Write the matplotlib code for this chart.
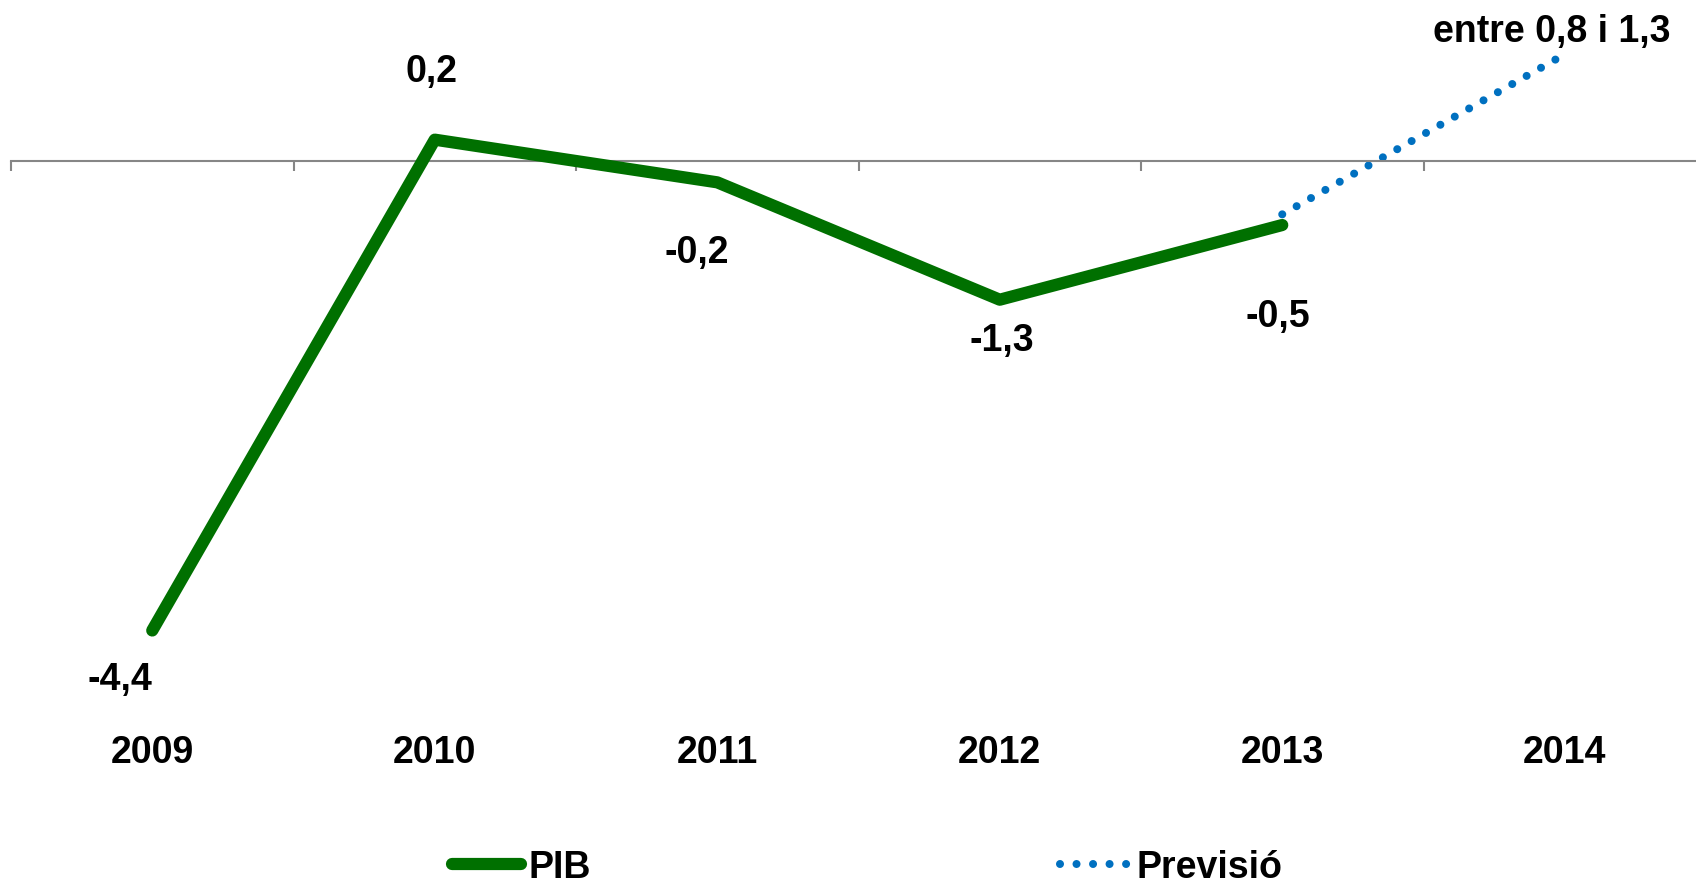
import matplotlib
matplotlib.use("Agg")
import matplotlib.pyplot as plt
import matplotlib.transforms as mtransforms

plt.rcParams['font.family'] = ['Liberation Sans', 'DejaVu Sans']
plt.rcParams['font.weight'] = 'bold'

# data
years = ['2009', '2010', '2011', '2012', '2013', '2014']
pib = [-4.4, 0.2, -0.2, -1.3, -0.6]
pib_labels = ['-4,4', '0,2', '-0,2', '-1,3', '-0,5']
previsio = [-0.5, 1.0]
previsio_label = 'entre 0,8 i 1,3'

# label offsets in points from each point (dx, dy)
pib_offsets = [(-23, -42), (-2, 42.5), (-14.6, -57.5), (1.6, -36.5), (-3.1, -72.5)]
prev_offset = (-9.4, 9.8)

green = '#007000'
blue = '#0070C0'
fs = 27

fig = plt.figure(figsize=(16.96, 8.87), dpi=100)
left = 11 / 1696
ax = fig.add_axes([left, 0, 1 - left, 1])

for s in ['left', 'right', 'top']:
    ax.spines[s].set_visible(False)
ax.spines['bottom'].set_position(('data', 0))
ax.spines['bottom'].set_color('#868686')
ax.spines['bottom'].set_linewidth(1.5)
ax.set_yticks([])
ax.set_xticks([i - 0.5 for i in range(len(years) + 1)])
ax.set_xticklabels([])
ax.tick_params(axis='x', direction='out', length=7, width=1.5, color='#868686')
# limits after the ticks, so set_xticks does not widen them
ax.set_xlim(-0.5, -0.5 + 1685 / 282.5)
ax.set_ylim((162 - 887) / 106.7, 162 / 106.7)

x_pib = list(range(len(pib)))
line_pib, = ax.plot(x_pib, pib, color=green, lw=8.8, solid_capstyle='round',
                    solid_joinstyle='round', zorder=3, label='PIB')
x_prev = [len(pib) - 1, len(pib)]
line_prev, = ax.plot(x_prev, previsio, color=blue, lw=5.8, dashes=(0.001, 2.05),
                     dash_capstyle='round', zorder=2, label='Previsió')

for x, y, t, (dx, dy) in zip(x_pib, pib, pib_labels, pib_offsets):
    ax.annotate(t, (x, y), xytext=(dx, dy), textcoords='offset points',
                ha='center', va='baseline', fontsize=fs, fontweight='bold')
ax.annotate(previsio_label, (x_prev[-1], previsio[-1]), xytext=prev_offset,
            textcoords='offset points', ha='center', va='baseline',
            fontsize=fs, fontweight='bold')

# year labels under the plot
trans = mtransforms.blended_transform_factory(ax.transData, ax.transAxes)
for i, yr in enumerate(years):
    ax.text(i, 1 - 763 / 887, yr, transform=trans, ha='center', va='baseline',
            fontsize=fs, fontweight='bold')

leg = fig.legend(handles=[line_pib, line_prev], loc='center left',
                 bbox_to_anchor=(452 / 1696, 1 - 868 / 887), ncol=2,
                 frameon=False, fontsize=fs, handlelength=1.85,
                 handletextpad=0.19, columnspacing=12.5, borderpad=0,
                 borderaxespad=0)
for t in leg.get_texts():
    t.set_fontweight('bold')

fig.savefig('out.png', dpi=100)
